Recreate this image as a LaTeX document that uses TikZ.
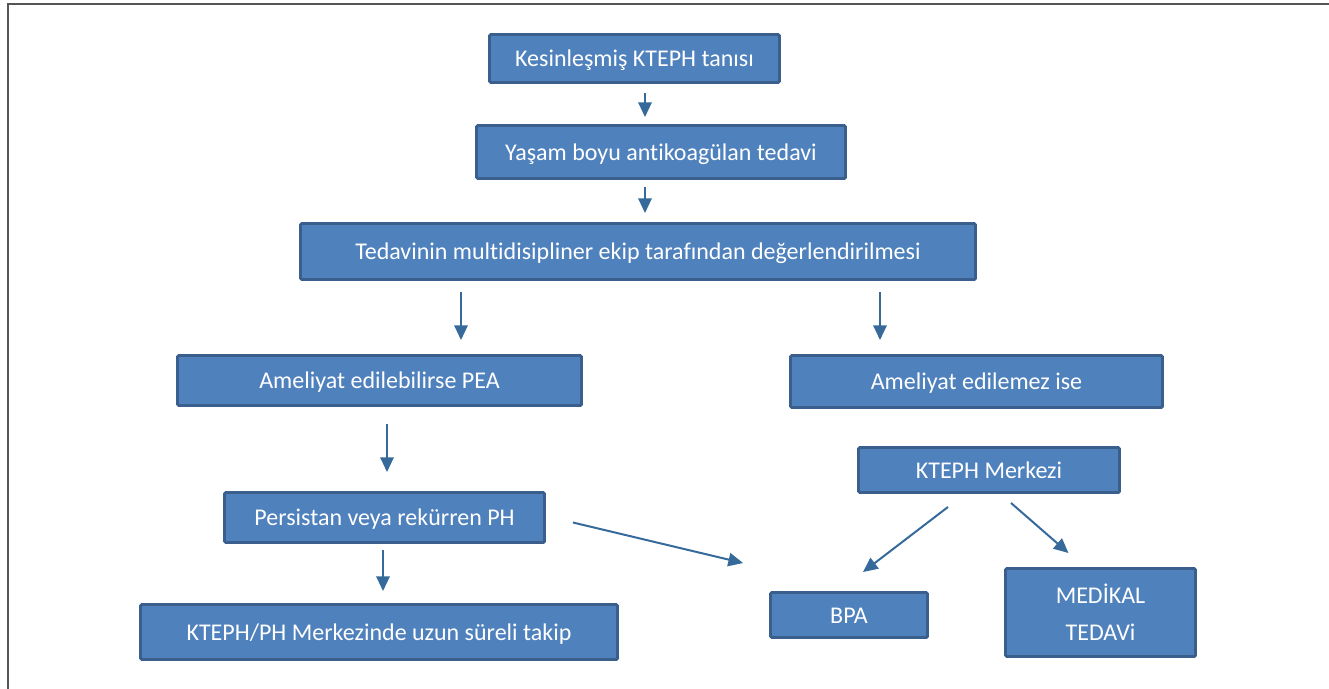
\documentclass[tikz,border=0pt]{standalone}
\usepackage{fontspec}
\setmainfont{Carlito}[Ligatures={NoCommon}]
\usetikzlibrary{arrows.meta}
\definecolor{boxfill}{HTML}{4F81BD}
\definecolor{boxline}{HTML}{3A5F8C}
\definecolor{arrowcol}{HTML}{356A9A}
\definecolor{framecol}{HTML}{555555}
\tikzset{
  stepbox/.style={draw=boxline, fill=boxfill, line width=2.2pt, rounded corners=1pt,
    inner sep=0pt, text=white, align=center,
    font=\fontsize{18}{27.75}\selectfont},
  oneline/.style={text height=12pt, text depth=0pt},
  arr/.style={draw=arrowcol, line width=1.5pt,
    -{Triangle[length=11pt,width=10pt]}},
}
% box from its border corners (x1,y1) to (x2,y2), in pixel units
\newcommand\flowbox[7][oneline]{%
  \node[stepbox, #1, minimum width={(#5-#3)*0.75pt}, minimum height={(#6-#4)*0.75pt}]
    (#2) at ({(#3+#5)/2},{(#4+#6)/2}) {#7};}
\begin{document}
\begin{tikzpicture}[x=0.75pt,y=-0.75pt]
\useasboundingbox (0,0) rectangle (1329,689);
% page frame (left and top edges)
\draw[framecol, line width=1.6pt] (8,689) -- (8,4) -- (1329,4);

% boxes
\flowbox{n1}{489.5}{34.5}{779.5}{82.5}{Kesinleşmiş KTEPH tanısı}
\flowbox{n2}{476.5}{125.5}{845.5}{178.5}{Yaşam boyu antikoagülan tedavi}
\flowbox{n3}{300.5}{223.5}{975.5}{279.5}{Tedavinin multidisipliner ekip tarafından değerlendirilmesi}
\flowbox{n4}{177.5}{355.5}{581.5}{405.5}{Ameliyat edilebilirse PEA}
\flowbox{n5}{790.5}{355.5}{1162.5}{407.5}{Ameliyat edilemez ise}
\flowbox{n6}{858.5}{447.5}{1119.5}{492.5}{KTEPH Merkezi}
\flowbox{n7}{224.5}{492.5}{544.5}{542.5}{Persistan veya rekürren PH}
\flowbox{n8}{140.5}{604.5}{617.5}{659.5}{KTEPH/PH Merkezinde uzun süreli takip}
\flowbox{n9}{770.5}{592.5}{927.5}{637.5}{BPA}
\flowbox[]{n10}{1005.5}{568.5}{1195.5}{656.5}{MEDİKAL\\TEDAVi}

% connectors
\draw[arr, shorten <=6.75pt, shorten >=5.25pt] (n1.south -| 645,0) -- (n2.north -| 645,0);
\draw[arr, shorten <=5.25pt, shorten >=6.75pt] (n2.south -| 645,0) -- (n3.north -| 645,0);
\draw[arr, shorten <=8.25pt, shorten >=10.5pt] (n3.south -| 461,0) -- (n4.north -| 461,0);
\draw[arr, shorten <=8.25pt, shorten >=10.5pt] (n3.south -| 880,0) -- (n5.north -| 880,0);
\draw[arr, shorten <=12.75pt, shorten >=14.25pt] (n4.south -| 387,0) -- (n7.north -| 387,0);
\draw[arr, shorten <=4.5pt, shorten >=9pt] (n7.south -| 383,0) -- (n8.north -| 383,0);
\draw[arr] ([shift={(27,5)}]n7.east) -- ([shift={(-26,-28)}]n9.north west);
\draw[arr] ([shift={(-41,13)}]n6.south) -- ([shift={(14,-19)}]n9.north);
\draw[arr] ([shift={(22,9)}]n6.south) -- ([shift={(-32,-14)}]n10.north);
\end{tikzpicture}
\end{document}
